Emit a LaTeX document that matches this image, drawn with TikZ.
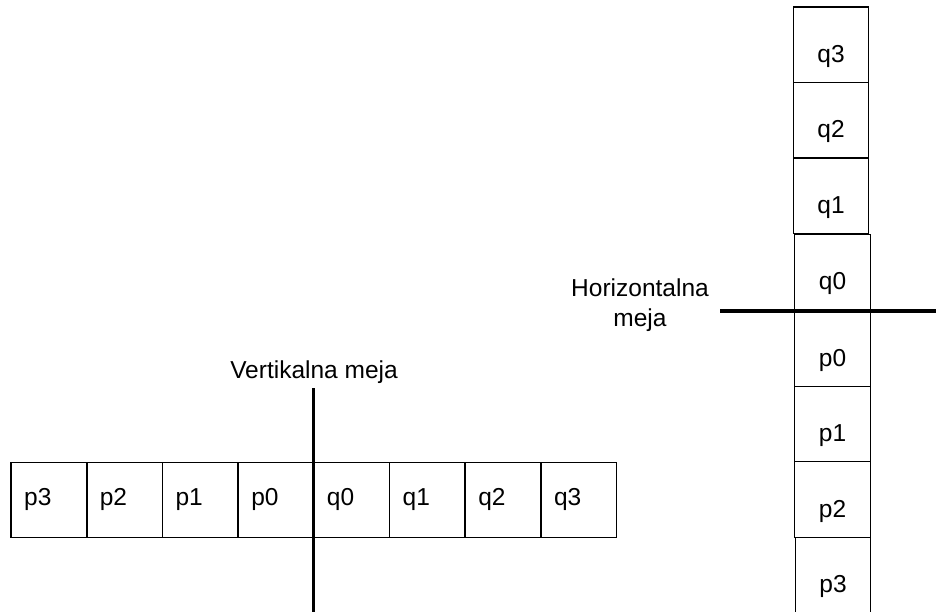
\documentclass[tikz,border=0pt]{standalone}
\usepackage{fontspec}
\setmainfont{Liberation Sans}
\begin{document}
\begin{tikzpicture}[x=1pt,y=-1pt,
  cell/.style={draw=black, line width=1.4pt, rectangle, minimum width=75.5pt, minimum height=75.5pt, inner sep=0pt, outer sep=0pt},
  rowcell/.style={cell, text width=49.5pt, inner xsep=13pt, align=left, text height=17pt, text depth=6pt},
  lbl/.style={font=\fontsize{24.5}{30}\selectfont, inner sep=0pt},
  border/.style={line width=3.5pt}]
  \useasboundingbox (0,0) rectangle (936,612);

  % horizontal row of samples across a vertical edge
  \foreach \n/\x in {p3/48.9, p2/124.6, p1/200.3, p0/276.0, q0/351.7, q1/427.4, q2/503.1, q3/578.8}{
    \node[rowcell, lbl] (h\n) at (\x,500) {\n};
  }
  \coordinate (vtop) at (313.5,388);
  \coordinate (vbot) at (313.5,614);
  \draw[border] (vtop) -- (vbot);
  \node[lbl, anchor=base] (vlabel) at (314,378) {Vertikalna meja};

  % vertical column of samples across a horizontal edge
  \foreach \n/\x/\y in {q3/831/44.8, q2/831/120.3, q1/831/195.8, q0/832.5/272.3, p0/832.5/348.5, p1/832.5/424, p2/832.5/499.5, p3/833/575}{
    \node[cell] (v\n) at (\x,\y) {};
    \node[lbl, anchor=base] (t\n) at ([yshift=-17.5pt]v\n.center) {\n};
  }
  \coordinate (hleft) at (720,311);
  \coordinate (hright) at (938,311);
  \draw[border] (hleft) -- (hright);
  \node[lbl, anchor=base] (hlabel1) at (640,296.7) {Horizontalna};
  \node[lbl, anchor=base] (hlabel2) at (640,326.7) {meja};
\end{tikzpicture}
\end{document}
